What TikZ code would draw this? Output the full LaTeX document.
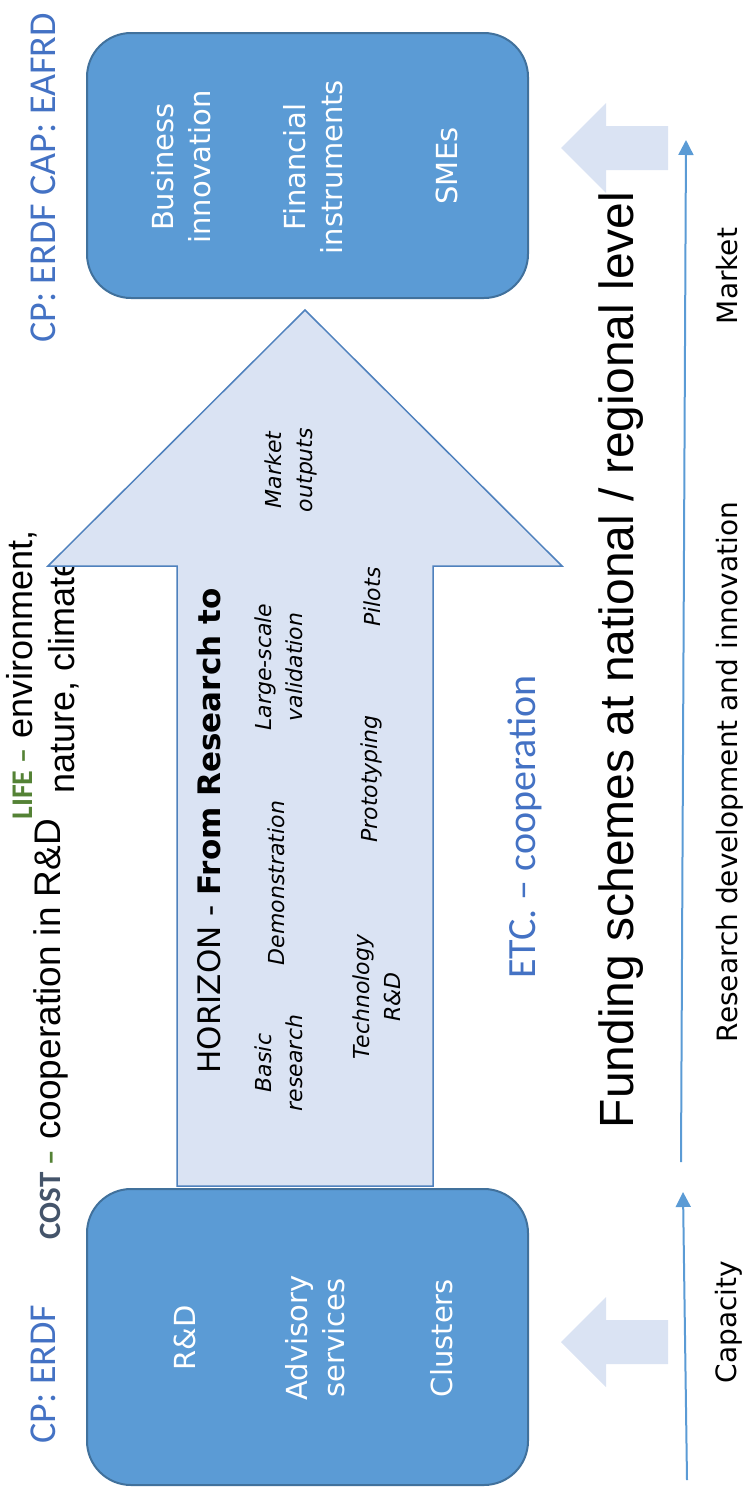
\documentclass[tikz,border=0pt]{standalone}
\usepackage{fontspec}
\setmainfont{DejaVu Sans}
\newfontfamily\arialfont{Liberation Sans}
\newfontfamily\califont{Carlito}
\usetikzlibrary{positioning,arrows.meta}

\definecolor{boxblue}{HTML}{5B9BD5}
\definecolor{boxedge}{HTML}{41719C}
\definecolor{palefill}{HTML}{DAE3F3}
\definecolor{arrowedge}{HTML}{4F81BD}
\definecolor{labelblue}{HTML}{4472C4}
\definecolor{costgray}{HTML}{44546A}
\definecolor{lifegreen}{HTML}{548235}

\begin{document}
\begin{tikzpicture}[x=1pt,y=-1pt,
		fundbox/.style={draw=boxedge, fill=boxblue, line width=2pt, rounded corners=44pt, inner sep=0pt},
		boxtext/.style={rotate=90, text=white, align=center, font=\fontsize{29}{37}\selectfont},
		stagetext/.style={rotate=90, align=center, font=\itshape\fontsize{22}{31}\selectfont},
		sidetext/.style={rotate=90, align=center, inner sep=0pt},
		thinarrow/.style={draw=boxblue, line width=2pt, -{Triangle[length=15pt,width=15pt]}},
		palearrow/.style={fill=palefill, draw=none}]

	\useasboundingbox (0,0) rectangle (746,1494);

	% Programme labels
	\node[sidetext, anchor=base, text=labelblue, font=\califont\fontsize{38}{44}\selectfont] (cptop) at (55,178) {CP: ERDF CAP: EAFRD};
	\node[sidetext, anchor=base, text=labelblue, font=\califont\fontsize{38}{44}\selectfont] (cpbottom) at (55,1374) {CP: ERDF};
	\node[sidetext, anchor=base, font=\arialfont\fontsize{37}{42}\selectfont] (cost) at (60,1029) {{\califont\bfseries\fontsize{31}{36}\selectfont\textcolor{costgray}{COST} \textcolor{lifegreen}{–}} cooperation in R\&D};
	\node[sidetext, font=\arialfont\fontsize{36}{42}\selectfont] (life) at (43,675) {{\califont\bfseries\fontsize{30}{35}\selectfont\textcolor{lifegreen}{LIFE –}} environment,\\nature, climate};

	% Funding boxes
	\node[fundbox, minimum width=441pt, minimum height=265pt] (marketbox) at (307.5,165.5) {};
	\node[fundbox, minimum width=441pt, minimum height=296pt] (capacitybox) at (307.5,1337) {};

	\node[boxtext] (business) at (181,167) {Business\\innovation};
	\node[boxtext] (financial) at (313,167) {Financial\\instruments};
	\node[boxtext, anchor=base] (smes) at (457,166) {SMEs};
	\node[boxtext, anchor=base] (rd) at (195,1338) {R\&D};
	\node[boxtext] (advisory) at (315,1338) {Advisory\\services};
	\node[boxtext, anchor=base] (clusters) at (452,1338) {Clusters};

	% Big arrow
	\draw[draw=arrowedge, fill=palefill, line width=1.5pt] (177,1186) -- (177,566) -- (48,566) -- (305,310) -- (562,566) -- (433,566) -- (433,1186) -- cycle;

	% Stages
	\node[sidetext, anchor=base, font=\fontsize{31}{36}\selectfont] (horizon) at (220,831) {HORIZON - \textbf{From Research to}};
	\node[stagetext] (basic) at (279,1063) {Basic\\research};
	\node[stagetext, anchor=base] (demo) at (284,883) {Demonstration};
	\node[stagetext] (techrd) at (377,997) {Technology\\R\&D};
	\node[stagetext, anchor=base] (proto) at (377,779) {Prototyping};
	\node[stagetext] (largescale) at (279,667) {Large-scale\\validation};
	\node[stagetext, anchor=base] (pilots) at (380,597) {Pilots};
	\node[stagetext] (marketout) at (291,470) {Market\\outputs};

	\node[sidetext, anchor=base, text=labelblue, font=\califont\fontsize{40}{46}\selectfont] (etc) at (535,827) {ETC. – cooperation};
	\node[sidetext, anchor=base, font=\arialfont\fontsize{48}{54}\selectfont] (funding) at (633,660) {Funding schemes at national / regional level};

	% Axis
	\node[sidetext, anchor=base, font=\fontsize{28}{32}\selectfont] (rdi) at (737,772) {Research development and innovation};
	\node[sidetext, anchor=base, font=\fontsize{28}{32}\selectfont] (market) at (737,276) {Market};
	\node[sidetext, anchor=base, font=\fontsize{28}{32}\selectfont] (capacity) at (736,1322) {Capacity};

	\coordinate (rdistart) at (681,1162);
	\coordinate (rdiend) at (686,140);
	\coordinate (capstart) at (687,1480);
	\coordinate (capend) at (683,1192);
	\draw[thinarrow] (rdistart) -- (rdiend);
	\draw[thinarrow] (capstart) -- (capend);

	% Pale arrows
	\foreach \yc in {148,1342} {
		\fill[palearrow] (668,\yc-22) -- (606,\yc-22) -- (606,\yc-45) -- (561,\yc) -- (606,\yc+45) -- (606,\yc+22) -- (668,\yc+22) -- cycle;
	}
\end{tikzpicture}
\end{document}
